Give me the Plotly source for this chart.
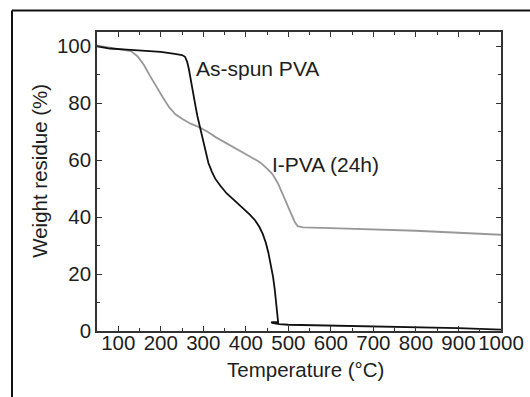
import plotly.graph_objects as go

# As-spun PVA (black)
asspun_T = [50, 80, 120, 160, 200, 233, 250, 257, 262, 266, 270, 273, 277, 281, 286, 292,
            298, 304, 312, 320, 328, 340, 355, 375, 394, 410, 422, 432, 440, 447, 453,
            459, 464, 468, 471, 474, 476, 476, 470, 460, 462, 478, 500, 600, 700, 800, 900, 1000]
asspun_W = [100, 99.2, 98.8, 98.4, 98.0, 97.3, 96.9, 96.3, 94.5, 92.0, 89.0, 86.5, 83.0, 79.5,
            75.5, 71.5, 67.5, 63.5, 59.0, 56.0, 53.5, 51.0, 48.3, 45.6, 43.0, 40.8, 38.8, 36.5,
            34.0, 31.0, 27.5, 23.5, 19.0, 14.5, 10.0, 6.0, 3.5, 3.0, 3.1, 3.1, 2.8, 2.4, 2.2,
            1.9, 1.7, 1.4, 1.0, 0.5]

# I-PVA (24h) (gray)
ipva_T = [50, 80, 110, 130, 145, 160, 175, 190, 205, 220, 235, 250, 270, 290, 310, 330, 350,
          370, 390, 410, 433, 450, 463, 475, 485, 495, 505, 515, 522, 535, 600, 700, 800, 900, 1000]
ipva_W = [100.2, 99.5, 99.0, 98.3, 96.5, 93.5, 89.5, 85.5, 82.0, 78.5, 76.0, 74.5, 72.8, 71.6,
          70.0, 68.0, 66.3, 64.8, 63.2, 61.4, 59.3, 57.0, 55.0, 52.0, 48.5, 45.0, 41.5, 38.3,
          36.8, 36.4, 36.1, 35.7, 35.2, 34.5, 33.8]

x_ticks = [100, 200, 300, 400, 500, 600, 700, 800, 900, 1000]
y_ticks = [0, 20, 40, 60, 80, 100]

FONT = "Liberation Sans, Arial, sans-serif"
TXT = "#1e1e1e"
AX = "#333333"

fig = go.Figure()
fig.add_trace(go.Scatter(x=ipva_T, y=ipva_W, mode="lines",
                         line=dict(color="#999999", width=1.8), showlegend=False))
fig.add_trace(go.Scatter(x=asspun_T, y=asspun_W, mode="lines",
                         line=dict(color="#111111", width=1.8), showlegend=False))

axis_common = dict(showline=True, mirror="ticks", linecolor=AX, linewidth=1.5,
                   ticks="inside", ticklen=5, tickwidth=1.2, tickcolor=AX,
                   showgrid=False, zeroline=False, automargin=False, tickangle=0,
                   tickfont=dict(family=FONT, size=20.5, color=TXT))

fig.update_xaxes(range=[50, 1000], tickvals=x_ticks, ticktext=[str(v) for v in x_ticks],
                 ticklabelstandoff=-7,
                 minor=dict(dtick=50, tick0=0, ticks="inside", ticklen=3, tickcolor=AX, tickwidth=1),
                 **axis_common)
fig.update_yaxes(range=[0, 105], tickvals=y_ticks, ticktext=[str(v) for v in y_ticks],
                 minor=dict(dtick=10, tick0=0, ticks="inside", ticklen=3, tickcolor=AX, tickwidth=1),
                 **axis_common)

fig.add_annotation(x=428, y=92.2, xref="x", yref="y", text="As-spun PVA", showarrow=False,
                   font=dict(family=FONT, size=21, color=TXT))
fig.add_annotation(x=587, y=58.4, xref="x", yref="y", text="I-PVA (24h)", showarrow=False,
                   font=dict(family=FONT, size=21, color=TXT))

fig.add_annotation(x=0.517, y=-0.13, xref="paper", yref="paper", text="Temperature (°C)",
                   showarrow=False, xanchor="center", yanchor="middle",
                   font=dict(family=FONT, size=20.5, color=TXT))
fig.add_annotation(x=-0.141, y=0.536, xref="paper", yref="paper", text="Weight residue (%)",
                   showarrow=False, textangle=-90, xanchor="center", yanchor="middle",
                   font=dict(family=FONT, size=20.5, color=TXT))

# outer frame (top and left edges)
fig.add_shape(type="line", xref="paper", yref="paper", x0=-0.2104, x1=1.08, y0=1.072, y1=1.072,
              line=dict(color="#111111", width=2))
fig.add_shape(type="line", xref="paper", yref="paper", x0=-0.2104, x1=-0.2104, y0=1.072, y1=-0.23,
              line=dict(color="#111111", width=2))

fig.update_layout(width=530, height=397, margin=dict(l=97, r=29, t=32, b=66),
                  paper_bgcolor="white", plot_bgcolor="white",
                  font=dict(family=FONT, color=TXT))

fig.write_html("out.html")
